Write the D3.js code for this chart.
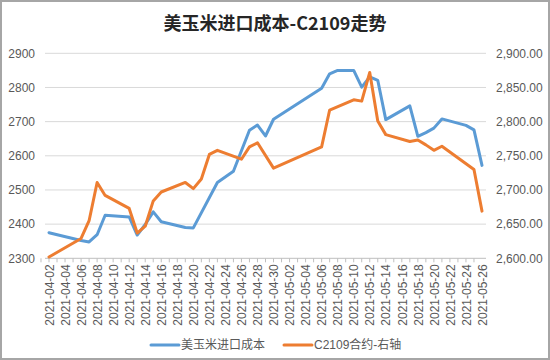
<!DOCTYPE html>
<html><head><meta charset="utf-8">
<script src="https://cdn.jsdelivr.net/npm/d3@7"></script>
<style>
html,body{margin:0;padding:0;background:#fff;}
svg{display:block;}
text{font-family:"Liberation Sans","Noto Sans CJK SC",sans-serif;}
</style></head>
<body><svg id="c" width="550" height="360"></svg>
<script>
const title = "美玉米进口成本-C2109走势";
const seriesNames = ["美玉米进口成本", "C2109合约-右轴"];

const costDates = ["2021-04-02","2021-04-06","2021-04-07","2021-04-08","2021-04-09","2021-04-12","2021-04-13","2021-04-14","2021-04-15","2021-04-16","2021-04-19","2021-04-20","2021-04-23","2021-04-25","2021-04-27","2021-04-28","2021-04-29","2021-04-30","2021-05-06","2021-05-07","2021-05-08","2021-05-10","2021-05-11","2021-05-12","2021-05-13","2021-05-14","2021-05-17","2021-05-18","2021-05-19","2021-05-20","2021-05-21","2021-05-24","2021-05-25","2021-05-26"];
const costValues = [2375,2352,2348,2369,2426,2421,2368,2399,2436,2407,2390,2389,2522,2555,2675,2690,2658,2707,2798,2840,2850,2850,2801,2831,2821,2706,2746,2657,2668,2681,2708,2689,2676,2572];

const futDates = ["2021-04-02","2021-04-06","2021-04-07","2021-04-08","2021-04-09","2021-04-12","2021-04-13","2021-04-14","2021-04-15","2021-04-16","2021-04-19","2021-04-20","2021-04-21","2021-04-22","2021-04-23","2021-04-26","2021-04-27","2021-04-28","2021-04-30","2021-05-06","2021-05-07","2021-05-10","2021-05-11","2021-05-12","2021-05-13","2021-05-14","2021-05-17","2021-05-18","2021-05-19","2021-05-20","2021-05-21","2021-05-25","2021-05-26"];
const futValues = [2602,2629,2655,2711,2692,2673,2637,2647,2684,2697,2711,2702,2716,2752,2758,2745,2763,2769,2732,2763,2817,2832,2830,2872,2801,2781,2771,2773,2766,2758,2764,2730,2669];

const xTickLabels = ["2021-04-02","2021-04-04","2021-04-06","2021-04-08","2021-04-10","2021-04-12","2021-04-14","2021-04-16","2021-04-18","2021-04-20","2021-04-22","2021-04-24","2021-04-26","2021-04-28","2021-04-30","2021-05-02","2021-05-04","2021-05-06","2021-05-08","2021-05-10","2021-05-12","2021-05-14","2021-05-16","2021-05-18","2021-05-20","2021-05-22","2021-05-24","2021-05-26"];
const leftTicks = [2300,2400,2500,2600,2700,2800,2900];
const rightTicks = [2600,2650,2700,2750,2800,2850,2900];

const svg = d3.select("#c");
const parse = d3.utcParse("%Y-%m-%d");
const DAY = 86400000;

const plot = {l:45, r:486, t:53.3, b:258.3};
const d0 = parse(xTickLabels[0]), d1 = parse(xTickLabels[xTickLabels.length-1]);
const x = d3.scaleUtc().domain([new Date(+d0 - DAY/2), new Date(+d1 + DAY/2)]).range([plot.l, plot.r]);
const yL = d3.scaleLinear().domain([2300,2900]).range([plot.b, plot.t]);
const yR = d3.scaleLinear().domain([2600,2900]).range([plot.b, plot.t]);

// border
svg.append("rect").attr("x",1).attr("y",1).attr("width",548).attr("height",358)
  .attr("fill","#fff").attr("stroke","#a6a6a6").attr("stroke-width",2);

// title
svg.append("text").attr("x",275).attr("y",30).attr("text-anchor","middle")
  .attr("font-size",18).attr("font-weight","bold").attr("fill","#262626")
  .style("font-family","'Noto Sans CJK SC',sans-serif").text(title);

// gridlines
svg.append("g").selectAll("line").data(leftTicks.slice(1)).join("line")
  .attr("x1",plot.l).attr("x2",plot.r).attr("y1",d=>yL(d)).attr("y2",d=>yL(d))
  .attr("stroke","#d9d9d9").attr("stroke-width",1);

// left axis
const gL = svg.append("g").attr("transform",`translate(${plot.l},0)`)
  .call(d3.axisLeft(yL).tickValues(leftTicks).tickSize(0).tickPadding(10).tickFormat(d3.format("d")));
gL.select(".domain").remove();
gL.selectAll("text").attr("fill","#595959").attr("font-size",12).style("font-family","'Liberation Sans',sans-serif");

// right axis
const gR = svg.append("g").attr("transform",`translate(${plot.r},0)`)
  .call(d3.axisRight(yR).tickValues(rightTicks).tickSize(0).tickPadding(10).tickFormat(d3.format(",.2f")));
gR.select(".domain").remove();
gR.selectAll("text").attr("fill","#595959").attr("font-size",12).style("font-family","'Liberation Sans',sans-serif");

// bottom axis line + ticks
svg.append("line").attr("x1",plot.l).attr("x2",plot.r).attr("y1",plot.b).attr("y2",plot.b)
  .attr("stroke","#bfbfbf").attr("stroke-width",1);
const dayTicks = d3.utcDay.range(d0, new Date(+d1 + DAY));
svg.append("g").selectAll("line").data(dayTicks).join("line")
  .attr("x1",d=>x(d)-x(new Date(+d0+DAY/2))+plot.l).attr("x2",d=>x(d)-x(new Date(+d0+DAY/2))+plot.l)
  .attr("y1",plot.b).attr("y2",plot.b+4).attr("stroke","#bfbfbf").attr("stroke-width",1);

const gX = svg.append("g").attr("transform",`translate(0,${plot.b})`)
  .call(d3.axisBottom(x).tickValues(xTickLabels.map(parse)).tickSize(0).tickFormat(d3.utcFormat("%Y-%m-%d")));
gX.select(".domain").remove();
gX.selectAll("text").attr("fill","#595959").attr("font-size",12)
  .style("font-family","'Liberation Sans',sans-serif")
  .attr("text-anchor","end").attr("transform","rotate(-90)")
  .attr("x",-6).attr("y",0).attr("dy","0.35em");

// lines
const costData = costDates.map((d,i)=>({d:parse(d), v:costValues[i]}));
const futData = futDates.map((d,i)=>({d:parse(d), v:futValues[i]}));
svg.append("path").datum(costData)
  .attr("d", d3.line().x(p=>x(p.d)).y(p=>yL(p.v)))
  .attr("fill","none").attr("stroke","#5b9bd5").attr("stroke-width",3).attr("stroke-linejoin","round").attr("stroke-linecap","round");
svg.append("path").datum(futData)
  .attr("d", d3.line().x(p=>x(p.d)).y(p=>yR(p.v)))
  .attr("fill","none").attr("stroke","#ed7d31").attr("stroke-width",3).attr("stroke-linejoin","round").attr("stroke-linecap","round");

// legend
const legend = [{name:seriesNames[0], color:"#5b9bd5", x:151},{name:seriesNames[1], color:"#ed7d31", x:284}];
const lg = svg.append("g").selectAll("g").data(legend).join("g").attr("transform",d=>`translate(${d.x},345)`);
lg.append("line").attr("x1",0).attr("x2",28).attr("y1",0).attr("y2",0)
  .attr("stroke",d=>d.color).attr("stroke-width",3).attr("stroke-linecap","round");
lg.append("text").attr("x",30).attr("y",0).attr("dy","0.35em").attr("font-size",12)
  .attr("fill","#595959").style("font-family","'Liberation Sans','Noto Sans CJK SC',sans-serif").text(d=>d.name);
</script></body></html>
